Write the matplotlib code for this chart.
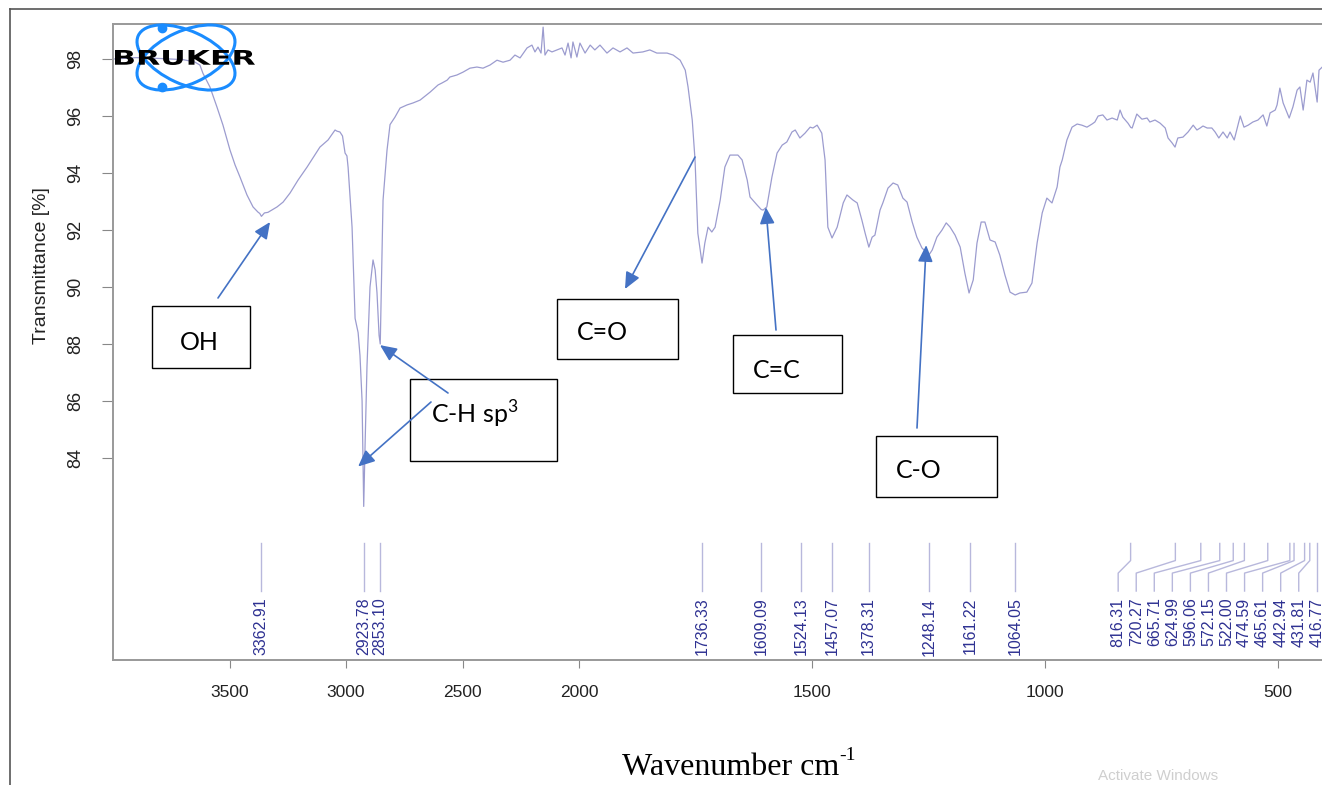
"""FTIR spectrum (Bruker style) with band assignments"""
import numpy as np
import matplotlib
matplotlib.use('Agg')
import matplotlib.pyplot as plt
from matplotlib.patches import Ellipse, Rectangle, PathPatch
from matplotlib.textpath import TextPath
from matplotlib.font_manager import FontProperties
from matplotlib.transforms import Affine2D

plt.rcParams['font.family'] = ['Liberation Sans', 'DejaVu Sans']
plt.rcParams['mathtext.fontset'] = 'custom'
plt.rcParams['mathtext.rm'] = 'Liberation Serif'
plt.rcParams['mathtext.sf'] = 'Lato'

# spectrum (wavenumber cm-1, transmittance %)
wavenumber = [
    4000, 3900, 3800, 3700, 3650, 3627, 3614, 3584, 3554, 3528, 3498, 3476,
    3455, 3425, 3399, 3378, 3370, 3363, 3350, 3335, 3296, 3270, 3240, 3206,
    3167, 3142, 3112, 3077, 3047, 3039, 3026, 3015, 3004, 2996, 2991, 2974,
    2961, 2948, 2940, 2931, 2924, 2918, 2910, 2897, 2884, 2875, 2867, 2858,
    2853, 2845, 2841, 2824, 2811, 2790, 2768, 2738, 2712, 2682, 2639, 2605,
    2588, 2566, 2554, 2524, 2498, 2468, 2438, 2412, 2382, 2352, 2326, 2296,
    2275, 2253, 2223, 2202, 2189, 2176, 2163, 2154, 2146, 2133, 2116, 2094,
    2073, 2060, 2047, 2034, 2026, 2009, 1998, 1987, 1976, 1966, 1955, 1940,
    1927, 1912, 1897, 1884, 1863, 1848, 1833, 1811, 1798, 1783, 1772, 1766,
    1757, 1751, 1745, 1736, 1730, 1723, 1715, 1708, 1697, 1687, 1676, 1659,
    1650, 1639, 1633, 1618, 1609, 1605, 1597, 1586, 1575, 1564, 1554, 1543,
    1536, 1526, 1515, 1504, 1498, 1489, 1479, 1472, 1466, 1457, 1446, 1433,
    1425, 1412, 1403, 1393, 1386, 1378, 1371, 1365, 1354, 1348, 1337, 1326,
    1316, 1305, 1296, 1285, 1275, 1264, 1253, 1248, 1242, 1232, 1221, 1212,
    1204, 1193, 1182, 1172, 1163, 1154, 1146, 1137, 1129, 1118, 1107, 1097,
    1086, 1075, 1064, 1054, 1039, 1028, 1017, 1006, 996, 985, 974, 968,
    963, 953, 942, 931, 921, 910, 899, 893, 886, 876, 867, 856,
    845, 839, 833, 822, 816, 813, 803, 792, 781, 775, 764, 753,
    742, 736, 727, 721, 715, 704, 693, 682, 674, 667, 661, 652,
    642, 635, 627, 618, 609, 603, 594, 581, 573, 564, 554, 543,
    532, 524, 517, 506, 502, 496, 489, 481, 476, 468, 459, 453,
    446, 438, 431, 425, 416, 412, 405]
transmittance = [
    98.00, 98.05, 98.02, 97.98, 97.90, 97.79, 97.50, 97.02, 96.32, 95.68, 94.81, 94.28,
    93.86, 93.23, 92.81, 92.63, 92.58, 92.48, 92.60, 92.62, 92.81, 92.98, 93.30, 93.75,
    94.21, 94.53, 94.91, 95.16, 95.51, 95.47, 95.44, 95.30, 94.70, 94.60, 94.20, 92.10,
    88.90, 88.40, 87.60, 86.00, 82.30, 84.50, 87.20, 90.00, 90.95, 90.60, 89.80, 88.30,
    88.00, 91.30, 93.05, 94.80, 95.70, 95.96, 96.28, 96.39, 96.46, 96.56, 96.84, 97.09,
    97.16, 97.26, 97.37, 97.44, 97.54, 97.68, 97.72, 97.68, 97.79, 97.96, 97.89, 97.96,
    98.14, 98.04, 98.39, 98.49, 98.25, 98.42, 98.21, 99.12, 98.14, 98.32, 98.25, 98.32,
    98.39, 98.14, 98.56, 98.04, 98.60, 98.07, 98.56, 98.21, 98.49, 98.32, 98.49, 98.21,
    98.39, 98.25, 98.39, 98.21, 98.25, 98.32, 98.21, 98.21, 98.14, 97.96, 97.61, 97.02,
    95.86, 94.46, 91.89, 90.84, 91.54, 92.10, 91.93, 92.10, 93.05, 94.21, 94.63, 94.63,
    94.46, 93.75, 93.16, 92.88, 92.72, 92.70, 92.81, 93.86, 94.70, 94.98, 95.09, 95.44,
    95.51, 95.23, 95.40, 95.61, 95.58, 95.68, 95.40, 94.46, 92.10, 91.72, 92.10, 92.95,
    93.23, 93.05, 92.95, 92.35, 91.89, 91.40, 91.75, 91.82, 92.70, 92.95, 93.47, 93.65,
    93.58, 93.12, 92.98, 92.28, 91.75, 91.37, 91.19, 91.15, 91.30, 91.75, 92.00, 92.25,
    92.11, 91.82, 91.40, 90.49, 89.79, 90.25, 91.54, 92.28, 92.28, 91.65, 91.58, 91.12,
    90.42, 89.82, 89.72, 89.79, 89.82, 90.14, 91.54, 92.60, 93.12, 92.95, 93.51, 94.21,
    94.46, 95.16, 95.61, 95.72, 95.68, 95.61, 95.72, 95.79, 96.00, 96.04, 95.86, 95.93,
    95.86, 96.21, 95.96, 95.75, 95.60, 95.58, 96.07, 95.89, 95.93, 95.79, 95.86, 95.75,
    95.58, 95.23, 95.05, 94.91, 95.23, 95.26, 95.44, 95.68, 95.51, 95.58, 95.65, 95.58,
    95.58, 95.44, 95.23, 95.44, 95.23, 95.44, 95.16, 96.00, 95.61, 95.68, 95.79, 95.86,
    96.04, 95.65, 96.11, 96.21, 96.39, 96.98, 96.46, 96.14, 95.93, 96.32, 96.91, 97.02,
    96.21, 97.26, 97.19, 97.51, 96.49, 97.61, 97.72]

# picked peaks
peaks = [3362.91, 2923.78, 2853.10, 1736.33, 1609.09, 1524.13, 1457.07,
         1378.31, 1248.14, 1161.22, 1064.05, 816.31, 720.27, 665.71, 624.99,
         596.06, 572.15, 522.00, 474.59, 465.61, 442.94, 431.81, 416.77]

x_ticks = [3500, 3000, 2500, 2000, 1500, 1000, 500]
y_ticks = [84, 86, 88, 90, 92, 94, 96, 98]

# band assignments: arrow tip (wavenumber, %) on the spectrum
bands = {
    'OH': (3326, 92.28),
    'C-H a': (2854, 87.96),
    'C-H b': (2948, 83.7),
    'C=C': (1599, 92.8),
    'C-O': (1255, 91.47),
}
co_tail = (1751, 94.56)

line_color = '#9c9ccf'
peak_line = '#b8b8dc'
peak_text = '#2e3192'
arrow_c = '#4472c4'


# Bruker axis: 4000-2000 compressed by 2
def fwd(w):
    w = np.asarray(w, dtype=float)
    return np.where(w > 2000, 2000 + (w - 2000) / 2, w)


def inv(u):
    u = np.asarray(u, dtype=float)
    return np.where(u > 2000, 2000 + (u - 2000) * 2, u)


W, H = 1322, 785
fig = plt.figure(figsize=(W / 100, H / 100), dpi=100)
ax = fig.add_axes([113 / W, 125 / H, 1209 / W, 636 / H])
ax.set_xscale('function', functions=(fwd, inv))
ax.set_xlim(4000, 405.6)
ax.set_ylim(76.91, 99.23)

ax.plot(wavenumber, transmittance, color=line_color, lw=0.9)

# peak markers
crowd = 11
label_x = np.linspace(843, 416.77, len(peaks) - crowd)
for i, p in enumerate(peaks):
    if i < crowd:
        ax.plot([p, p], [81.0, 79.33], color=peak_line, lw=1)
        lx = p
    else:
        lx = label_x[i - crowd]
        ax.plot([p, p, lx, lx], [81.0, 80.4, 79.96, 79.33], color=peak_line, lw=1)
    ax.text(lx, 79.1, f'{p:.2f}', rotation=90, ha='center', va='top',
            color=peak_text, fontsize=11.5)

ax.set_xticks(x_ticks)
ax.set_xticklabels([str(t) for t in x_ticks])
ax.set_yticks(y_ticks)
ax.minorticks_off()
ax.tick_params(axis='x', length=6, pad=12, labelsize=12.5, color='#888888',
               labelcolor='#222222')
ax.tick_params(axis='y', length=8, pad=13, labelsize=13, color='#888888',
               labelcolor='#222222', labelrotation=90)
for lab in ax.get_yticklabels():
    lab.set_va('center')
for side in ['left', 'bottom', 'top']:
    ax.spines[side].set_color('#999999')
    ax.spines[side].set_linewidth(1.4)
ax.spines['right'].set_visible(False)

# overlay in pixel coordinates for the document decorations
ov = fig.add_axes([0, 0, 1, 1], zorder=5)
ov.set_xlim(0, W)
ov.set_ylim(H, 0)
ov.axis('off')
ov.patch.set_alpha(0)

ov.plot([10, 10], [H, 9], color='#555555', lw=1.2)
ov.plot([10, W], [9, 9], color='#555555', lw=1.2)

ov.text(42, 266, 'Transmittance [%]', rotation=90, ha='center', va='center',
        fontsize=14, color='#222222')
ov.text(622, 775, 'Wavenumber cm', ha='left', va='baseline',
        family='Liberation Serif', fontsize=23)
ov.text(839, 760, '-1', ha='left', va='baseline',
        family='Liberation Serif', fontsize=14)
ov.text(1098, 769, 'Activate Windows', ha='left', va='top', fontsize=11,
        color='#cfcfcf')

# logo
for ang in (24.6, -24.6):
    ov.add_patch(Ellipse((186, 57.5), 105, 53, angle=ang, fill=False,
                         ec='#1a8cff', lw=2.2))
ov.plot([162, 162], [28, 87], 'o', color='#1a8cff', ms=6, ls='none')
tp = TextPath((0, 0), 'BRUKER', size=1,
              prop=FontProperties(family='DejaVu Sans', weight='bold'))
ext = tp.get_extents()
tr = (Affine2D().translate(-ext.x0, -ext.y0)
      .scale(140 / ext.width, -15 / ext.height).translate(115, 65))
ov.add_patch(PathPatch(tr.transform_path(tp), fc='black', ec='none'))

# assignment boxes
boxes = [((152, 306), 98, 62), ((410, 379), 147, 82), ((557, 299), 121, 60),
         ((733, 335), 109, 58), ((876, 436), 121, 61)]
for (bx, by), bw, bh in boxes:
    ov.add_patch(Rectangle((bx, by), bw, bh, fc='white', ec='black', lw=1.0,
                           zorder=2))
box_font = dict(family='Lato', fontsize=18, va='center', ha='left', zorder=3)
ov.text(180, 342, 'OH', **box_font)
ov.text(431, 414, 'C-H sp$^{\\mathsf{3}}$', **box_font)
ov.text(577, 333, 'C=O', **box_font)
ov.text(753, 371, 'C=C', **box_font)
ov.text(896, 470, 'C-O', **box_font)

aprops = dict(arrowstyle='-|>,head_length=1.0,head_width=0.45', color=arrow_c,
              lw=1.2, shrinkA=0, shrinkB=0)
tails = {'OH': (218, 298), 'C-H a': (448, 393), 'C-H b': (431, 402),
         'C=C': (776, 330), 'C-O': (917, 428)}
for key, tip in bands.items():
    ov.annotate('', xy=tip, xycoords=ax.transData, xytext=tails[key],
                textcoords='data', arrowprops=aprops, zorder=4)
ov.annotate('', xy=(625, 289), xycoords='data', xytext=co_tail,
            textcoords=ax.transData, arrowprops=aprops, zorder=4)

fig.savefig('out.png', dpi=100)
